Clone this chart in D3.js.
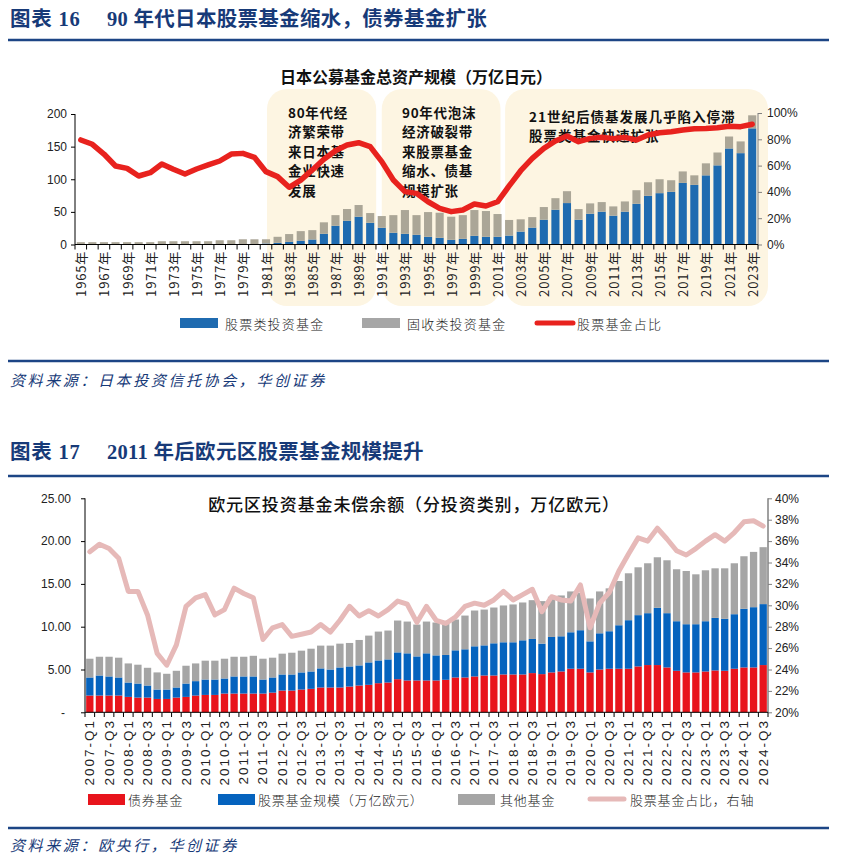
<!DOCTYPE html>
<html><head><meta charset="utf-8">
<script src="https://cdn.jsdelivr.net/npm/d3@7"></script>
<style>body{margin:0;background:#fff}svg{display:block}</style>
</head><body>
<svg id="c" width="842" height="864"></svg>
<script>
// ---------- Chart 16 data (Japan) ----------
const years = [1965,1966,1967,1968,1969,1970,1971,1972,1973,1974,1975,1976,1977,1978,1979,1980,1981,1982,1983,1984,1985,1986,1987,1988,1989,1990,1991,1992,1993,1994,1995,1996,1997,1998,1999,2000,2001,2002,2003,2004,2005,2006,2007,2008,2009,2010,2011,2012,2013,2014,2015,2016,2017,2018,2019,2020,2021,2022,2023];
const jpEquity = [0.3,0.3,0.3,0.3,0.3,0.3,0.3,0.5,0.5,0.5,0.5,0.5,0.6,0.6,0.8,0.8,1.5,2.5,4,5.6,7.7,16.4,28.7,36.4,42.6,33.3,25.6,18,16.4,14.9,11.8,10.3,7.2,8.7,13.3,11.8,11.8,13.7,19.8,25.9,38,53.3,63.5,38,47.2,50.3,44.2,50.3,62.4,74.6,78.7,80.7,94.4,91.4,106,121.3,147.2,140,178];
const jpBond = [3.3,3.3,3.3,3.3,3.3,3.3,3.3,4.5,4.5,4.5,4.5,4.5,5.9,5.9,7.2,7.2,6.5,9.3,12,14.9,14.3,17.6,16.3,18,17.9,14.9,18,27,36.4,30.1,37.9,38.4,35.4,36.3,39.5,39.5,34.9,23.9,18.8,16.1,19.4,17.7,18.2,16.3,15.8,14.7,14.2,15.7,20.8,20.8,21.3,17.8,17.6,14.6,18.4,19.7,18.3,18,20];
const jpShare = [79.5,76.2,68.8,59.7,57.9,52.1,54.6,61.2,57.2,53.6,57.4,60.5,63.5,68.8,69.3,66.3,55.4,51.6,43.5,49,56.7,64.8,71.3,75.7,77.4,74.4,63,49,40.2,38.9,32.5,27.5,25,26.2,30.8,29.3,32.5,44.5,56.1,65.5,73.1,78.7,82.5,78.2,80.7,81.5,80.5,81.5,79.5,83.3,85,85.8,87,88,88.3,88.8,89.9,89.6,91.4];
const jpLeftTicks = [0,50,100,150,200];
const jpRightTicks = [0,20,40,60,80,100];
const jpPeriods = [[1981,1990],[1991,2001],[2002,2023]];
const jpNotes = [
  ["80年代经","济繁荣带","来日本基","金业快速","发展"],
  ["90年代泡沫","经济破裂带","来股票基金","缩水、债基","规模扩张"],
  ["21世纪后债基发展几乎陷入停滞","股票类基金快速扩张"]
];

// ---------- Chart 17 data (Euro area) ----------
const quarters = ["2007-Q1","2007-Q2","2007-Q3","2007-Q4","2008-Q1","2008-Q2","2008-Q3","2008-Q4","2009-Q1","2009-Q2","2009-Q3","2009-Q4","2010-Q1","2010-Q2","2010-Q3","2010-Q4","2011-Q1","2011-Q2","2011-Q3","2011-Q4","2012-Q1","2012-Q2","2012-Q3","2012-Q4","2013-Q1","2013-Q2","2013-Q3","2013-Q4","2014-Q1","2014-Q2","2014-Q3","2014-Q4","2015-Q1","2015-Q2","2015-Q3","2015-Q4","2016-Q1","2016-Q2","2016-Q3","2016-Q4","2017-Q1","2017-Q2","2017-Q3","2017-Q4","2018-Q1","2018-Q2","2018-Q3","2018-Q4","2019-Q1","2019-Q2","2019-Q3","2019-Q4","2020-Q1","2020-Q2","2020-Q3","2020-Q4","2021-Q1","2021-Q2","2021-Q3","2021-Q4","2022-Q1","2022-Q2","2022-Q3","2022-Q4","2023-Q1","2023-Q2","2023-Q3","2023-Q4","2024-Q1","2024-Q2","2024-Q3"];
const euBond = [1.96,1.96,1.96,1.96,1.80,1.72,1.72,1.56,1.56,1.72,1.80,1.96,2.03,2.03,2.19,2.19,2.19,2.19,2.19,2.30,2.54,2.54,2.66,2.74,2.90,2.90,2.90,3.01,3.13,3.21,3.40,3.48,3.87,3.72,3.72,3.72,3.72,3.80,4.07,4.07,4.19,4.30,4.30,4.42,4.42,4.42,4.58,4.46,4.66,4.77,5.09,5.09,4.66,5.00,5.09,5.09,5.09,5.36,5.52,5.52,5.24,4.85,4.66,4.66,4.77,4.89,4.85,5.09,5.24,5.24,5.52];
const euEquity = [2.11,2.34,2.23,2.11,1.68,1.64,1.41,1.10,1.10,1.18,1.56,1.68,1.80,1.80,1.76,2.00,2.00,2.00,1.64,1.77,1.88,1.88,2.00,2.03,2.23,2.10,2.34,2.35,2.35,2.62,2.66,2.70,3.13,3.17,2.81,3.17,2.93,2.90,3.17,3.29,3.52,3.52,3.76,3.76,3.76,3.99,3.99,3.56,4.14,4.11,4.26,4.50,3.63,4.23,4.38,5.08,5.67,5.99,6.06,6.69,6.34,5.79,5.63,5.63,5.87,6.14,6.07,6.37,6.85,7.04,7.12];
const euOther = [2.19,2.19,2.30,2.31,2.23,2.20,2.07,2.00,1.84,1.95,2.08,2.07,2.20,2.20,2.31,2.30,2.30,2.41,2.43,2.31,2.43,2.54,2.54,2.66,2.66,2.79,2.78,2.74,2.97,3.13,3.37,3.37,3.72,3.71,3.72,3.71,3.84,3.65,3.60,3.94,4.18,4.18,4.18,4.30,4.42,4.42,4.53,4.97,4.70,4.77,4.77,4.38,5.01,4.89,5.01,5.17,5.48,5.59,5.83,5.90,6.18,6.07,6.22,5.83,5.95,5.79,5.90,5.95,6.14,6.46,6.65];
const euShare = [35.0,35.7,35.3,34.4,31.3,31.3,29.1,25.5,24.4,26.3,29.9,30.7,31.0,29.1,29.6,31.6,31.1,30.7,26.8,27.9,28.2,27.1,27.3,27.5,28.2,27.5,28.6,29.9,29.0,29.5,29.0,29.6,30.4,30.1,28.4,29.9,28.6,28.3,28.9,29.9,30.2,30.0,30.5,31.3,30.5,31.0,31.5,29.4,30.8,30.5,30.4,31.9,27.9,30.2,31.2,33.2,34.8,36.3,36.0,37.2,36.2,35.1,34.7,35.3,36.0,36.6,36.0,36.8,37.8,37.9,37.4];
const euLeftTicks = [0,5,10,15,20,25];
const euRightTicks = [20,22,24,26,28,30,32,34,36,38,40];

// ---------- drawing ----------
const svg = d3.select("#c");
const NAVY = "#173a78";
const CJK = "'Noto Sans CJK SC','Noto Sans',sans-serif";
const HEAD = "'Liberation Serif','Noto Sans CJK SC',serif";
const NUM = "'Liberation Sans',Arial,sans-serif";

function header(y, num, txt){
  svg.append("text").attr("x",10).attr("y",y).attr("font-family",HEAD).attr("font-weight","bold")
    .attr("font-size",20.5).attr("letter-spacing",0.8).attr("fill",NAVY).text("图表 " + num);
  svg.append("text").attr("x",107).attr("y",y).attr("font-family",HEAD).attr("font-weight","bold")
    .attr("font-size",20.5).attr("letter-spacing",0.3).attr("fill",NAVY).text(txt);
}
function rule(y){
  svg.append("line").attr("x1",8).attr("x2",829).attr("y1",y).attr("y2",y)
    .attr("stroke","#1c4585").attr("stroke-width",2.5);
}
function source(y, txt){
  svg.append("text").attr("x",10).attr("y",y).attr("font-family",CJK).attr("font-style","italic")
    .attr("font-size",15).attr("letter-spacing",2.6).attr("fill",NAVY).text(txt);
}

header(26,"16","90 年代日本股票基金缩水，债券基金扩张");
rule(40);
rule(361);
source(386,"资料来源：日本投资信托协会，华创证券");
header(459,"17","2011 年后欧元区股票基金规模提升");
rule(476);
rule(828);
source(851,"资料来源：欧央行，华创证券");

// ===== Chart 16 =====
(function(){
  const g = svg.append("g");
  const x = d3.scaleBand().domain(years).range([75,758]).paddingInner(0.3).paddingOuter(0.15);
  const xc = d => x(d) + x.bandwidth()/2;
  const step = x.step();
  const yL = d3.scaleLinear().domain([0,200]).range([244.5,114]);
  const yR = d3.scaleLinear().domain([0,100]).range([244.5,113]);

  // shaded periods
  const shadeX = [
    [xc(jpPeriods[0][0])+1, xc(jpPeriods[0][1])+6],
    [xc(jpPeriods[1][0]), xc(jpPeriods[1][1])+3],
    [xc(jpPeriods[2][0])-4, 768]
  ];
  g.selectAll("rect.shade").data(shadeX).join("rect").attr("class","shade")
    .attr("x",d=>d[0]).attr("width",d=>d[1]-d[0]).attr("y",89).attr("height",217)
    .attr("rx",20).attr("ry",20).attr("fill","#fdf5e2");

  // title
  g.append("text").attr("x",416).attr("y",76).attr("text-anchor","middle").attr("dominant-baseline","central")
    .attr("font-family",CJK).attr("font-weight","bold").attr("font-size",16).attr("fill","#111")
    .text("日本公募基金总资产规模（万亿日元）");

  // bars
  const rows = years.map((y,i)=>({y, eq:jpEquity[i], bd:jpBond[i]}));
  g.selectAll("rect.eq").data(rows).join("rect").attr("class","eq")
    .attr("x",d=>x(d.y)).attr("width",x.bandwidth())
    .attr("y",d=>yL(d.eq)).attr("height",d=>yL(0)-yL(d.eq)).attr("fill","#1f6bb0");
  g.selectAll("rect.bd").data(rows).join("rect").attr("class","bd")
    .attr("x",d=>x(d.y)).attr("width",x.bandwidth())
    .attr("y",d=>yL(d.eq+d.bd)).attr("height",d=>yL(d.eq)-yL(d.eq+d.bd)).attr("fill","#aba697");

  // notes
  const noteX = [288, 402, 529];
  const noteY = [111.5, 111.5, 115.5];
  const noteDy = [19.6, 19.6, 19.8];
  jpNotes.forEach((lines,k)=>{
    lines.forEach((s,j)=>{
      g.append("text").attr("x",noteX[k]).attr("y",noteY[k]+j*noteDy[k]).attr("dominant-baseline","central")
        .attr("font-family",CJK).attr("font-weight","bold").attr("font-size",13.5)
        .attr("letter-spacing",k<2?0.7:1).attr("fill","#111").text(s);
    });
  });

  // line
  const line = d3.line().x((d,i)=>xc(years[i])).y(d=>yR(d)).curve(d3.curveLinear);
  g.append("path").datum(jpShare).attr("d",line).attr("fill","none")
    .attr("stroke","#e8221e").attr("stroke-width",5.5).attr("stroke-linejoin","round").attr("stroke-linecap","round");

  // left axis
  const la = g.append("g").attr("transform","translate(75,0)")
    .call(d3.axisLeft(yL).tickValues(jpLeftTicks).tickSize(4).tickFormat(d3.format("d")));
  la.select(".domain").attr("stroke","#000").attr("d","M0,114V244.5");
  la.selectAll(".tick line").attr("stroke","#000");
  la.selectAll("text").attr("font-family",NUM).attr("font-size",12).attr("fill","#222").attr("x",-8);

  // right axis
  const ra = g.append("g").attr("transform","translate(758,0)")
    .call(d3.axisRight(yR).tickValues(jpRightTicks).tickSize(4).tickFormat(d=>d+"%"));
  ra.select(".domain").attr("stroke","#808080").attr("d","M0,113V244.5");
  ra.selectAll(".tick line").attr("stroke","#808080");
  ra.selectAll("text").attr("font-family",NUM).attr("font-size",12).attr("fill","#222").attr("x",9);

  // bottom axis
  g.append("line").attr("x1",75).attr("x2",758).attr("y1",244.5).attr("y2",244.5).attr("stroke","#000");
  g.selectAll("line.xt").data(years.concat(["end"])).join("line").attr("class","xt")
    .attr("x1",(d,i)=>75+i*step).attr("x2",(d,i)=>75+i*step).attr("y1",244.5).attr("y2",249.5).attr("stroke","#000");
  g.selectAll("text.xl").data(years.filter((d,i)=>i%2===0)).join("text").attr("class","xl")
    .attr("transform",d=>`translate(${xc(d)},251) rotate(-90)`).attr("text-anchor","end").attr("dominant-baseline","central")
    .attr("font-family",CJK).attr("font-size",13).attr("letter-spacing",0.8).attr("fill","#222").text(d=>d+"年");

  // legend
  const ly = 323;
  g.append("rect").attr("x",180).attr("y",ly-5).attr("width",38).attr("height",10).attr("fill","#1f6bb0");
  g.append("rect").attr("x",362).attr("y",ly-5).attr("width",38).attr("height",10).attr("fill","#a6a6a6");
  g.append("line").attr("x1",537).attr("x2",573).attr("y1",ly).attr("y2",ly).attr("stroke","#e8221e").attr("stroke-width",5).attr("stroke-linecap","round");
  [[225,"股票类投资基金"],[407,"固收类投资基金"],[577,"股票基金占比"]].forEach(([lx,t])=>{
    g.append("text").attr("x",lx).attr("y",ly).attr("dominant-baseline","central").attr("font-family",CJK)
      .attr("font-weight",300).attr("font-size",13).attr("letter-spacing",1.2).attr("fill","#222").text(t);
  });
})();

// ===== Chart 17 =====
(function(){
  const g = svg.append("g");
  const x = d3.scaleBand().domain(quarters).range([85,768]).paddingInner(0.24).paddingOuter(0.12);
  const xc = d => x(d) + x.bandwidth()/2;
  const step = x.step();
  const yL = d3.scaleLinear().domain([0,25]).range([712.3,498.3]);
  const yR = d3.scaleLinear().domain([20,40]).range([712.3,498.3]);

  g.append("text").attr("x",414).attr("y",503).attr("text-anchor","middle").attr("dominant-baseline","central")
    .attr("font-family",CJK).attr("font-weight",500).attr("font-size",17).attr("letter-spacing",0.9).attr("fill","#111")
    .text("欧元区投资基金未偿余额（分投资类别，万亿欧元）");

  const rows = quarters.map((q,i)=>({q, b:euBond[i], e:euEquity[i], o:euOther[i]}));
  const stack = d3.stack().keys(["b","e","o"])(rows);
  const colors = {b:"#e8141c", e:"#0563be", o:"#a5a5a5"};
  stack.forEach(s=>{
    g.selectAll(null).data(s).join("rect")
      .attr("x",d=>x(d.data.q)).attr("width",x.bandwidth())
      .attr("y",d=>yL(d[1])).attr("height",d=>yL(d[0])-yL(d[1])).attr("fill",colors[s.key]);
  });

  const line = d3.line().x((d,i)=>xc(quarters[i])).y(d=>yR(d));
  g.append("path").datum(euShare).attr("d",line).attr("fill","none")
    .attr("stroke","#e6b9b8").attr("stroke-width",5).attr("stroke-linejoin","round").attr("stroke-linecap","round");

  const la = g.append("g").attr("transform","translate(85,0)")
    .call(d3.axisLeft(yL).tickValues(euLeftTicks).tickSize(4).tickFormat(d=>d===0?"-":d3.format(".2f")(d)));
  la.select(".domain").attr("stroke","#000").attr("d","M0,498.3V712.3");
  la.selectAll(".tick line").attr("stroke","#000");
  la.selectAll("text").attr("font-family",NUM).attr("font-size",12).attr("fill","#222").attr("x",d=>d===0?-20:-14);

  const ra = g.append("g").attr("transform","translate(768,0)")
    .call(d3.axisRight(yR).tickValues(euRightTicks).tickSize(4).tickFormat(d=>d+"%"));
  ra.select(".domain").attr("stroke","#808080").attr("stroke-width",1.5).attr("d","M0,498.3V712.3");
  ra.selectAll(".tick line").attr("stroke","#808080");
  ra.selectAll("text").attr("font-family",NUM).attr("font-size",12).attr("fill","#222").attr("x",7);

  g.append("line").attr("x1",85).attr("x2",768).attr("y1",712.3).attr("y2",712.3).attr("stroke","#000");
  g.selectAll("line.xt").data(quarters.concat(["end"])).join("line").attr("class","xt")
    .attr("x1",(d,i)=>85+i*step).attr("x2",(d,i)=>85+i*step).attr("y1",712.3).attr("y2",717).attr("stroke","#000");
  g.selectAll("text.xl").data(quarters.filter((d,i)=>i%2===0)).join("text").attr("class","xl")
    .attr("transform",d=>`translate(${xc(d)},719) rotate(-90)`).attr("text-anchor","end").attr("dominant-baseline","central")
    .attr("font-family",NUM).attr("font-size",13.5).attr("letter-spacing",2).attr("fill","#222").text(d=>d);

  const ly = 799;
  g.append("rect").attr("x",88).attr("y",ly-5).attr("width",37).attr("height",11).attr("fill","#e8141c");
  g.append("rect").attr("x",218).attr("y",ly-5).attr("width",37).attr("height",11).attr("fill","#0563be");
  g.append("rect").attr("x",458).attr("y",ly-5).attr("width",37).attr("height",11).attr("fill","#a5a5a5");
  g.append("line").attr("x1",590).attr("x2",624).attr("y1",ly).attr("y2",ly).attr("stroke","#e6b9b8").attr("stroke-width",5).attr("stroke-linecap","round");
  [[128,"债券基金"],[258,"股票基金规模（万亿欧元）"],[500,"其他基金"],[630,"股票基金占比，右轴"]].forEach(([lx,t])=>{
    g.append("text").attr("x",lx).attr("y",ly).attr("dominant-baseline","central").attr("font-family",CJK)
      .attr("font-weight",300).attr("font-size",13).attr("letter-spacing",0.8).attr("fill","#222").text(t);
  });
})();
</script>
</body></html>
